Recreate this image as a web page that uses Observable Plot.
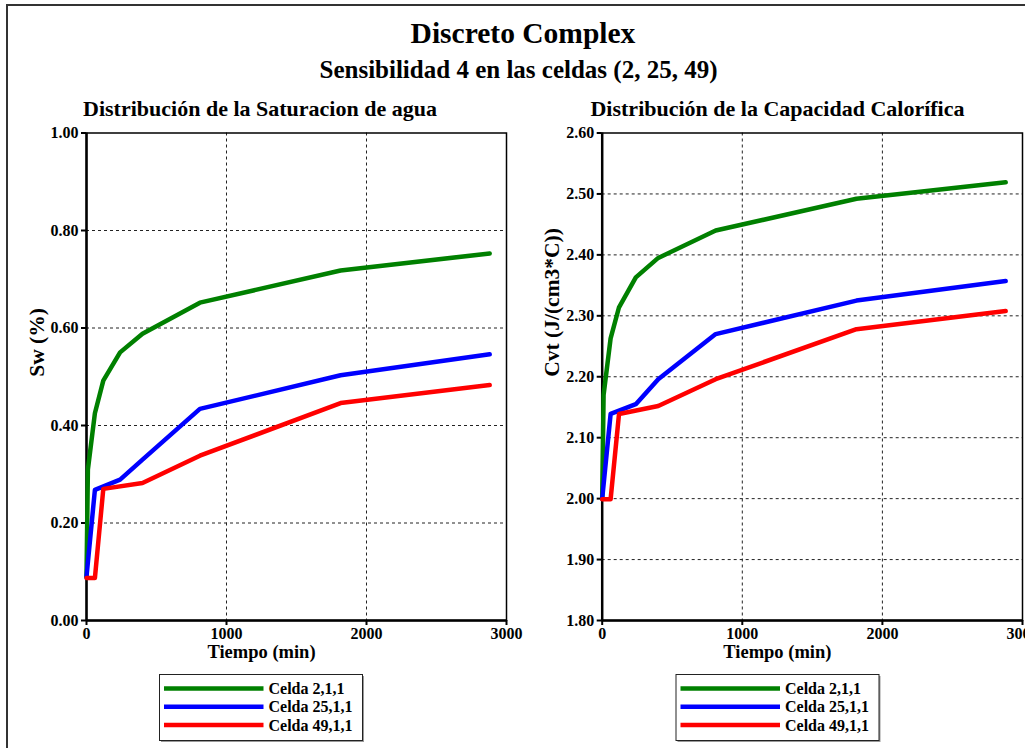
<!DOCTYPE html>
<html>
<head>
<meta charset="utf-8">
<script src="https://cdn.jsdelivr.net/npm/d3@7"></script>
<script src="https://cdn.jsdelivr.net/npm/@observablehq/plot@0.6"></script>
<style>
  html, body { margin: 0; padding: 0; background: #fff; }
  #wrap { position: relative; width: 1025px; height: 748px; overflow: hidden; background: #fff; }
  #wrap svg { position: absolute; top: 0; }
</style>
</head>
<body>
<div id="wrap"></div>
<script>
const FONT = "'Liberation Serif', 'Times New Roman', serif";

// ---- Texts ----
const title = "Discreto Complex";
const subtitle = "Sensibilidad 4 en las celdas (2, 25, 49)";
const panelTitles = ["Distribución de la Saturacion de agua", "Distribución de la Capacidad Calorífica"];
const yLabels = ["Sw (%)", "Cvt (J/(cm3*C))"];
const xLabel = "Tiempo (min)";
const seriesNames = ["Celda 2,1,1", "Celda 25,1,1", "Celda 49,1,1"];
const seriesColors = ["#008000", "#0000ff", "#ff0000"];

// ---- Ticks ----
const xTicks = [0, 1000, 2000, 3000];
const swTicks = [0.0, 0.2, 0.4, 0.6, 0.8, 1.0];
const cvtTicks = [1.8, 1.9, 2.0, 2.1, 2.2, 2.3, 2.4, 2.5, 2.6];

// ---- Data (time in minutes) ----
const tGreen = [0, 10, 60, 120, 240, 400, 810, 1815, 2880];
const tBlue  = [0, 60, 240, 400, 810, 1815, 2880];
const tRed   = [0, 60, 120, 400, 810, 1815, 2880];

const swGreen = [0.089, 0.310, 0.425, 0.492, 0.550, 0.588, 0.652, 0.718, 0.753];
const swBlue  = [0.090, 0.268, 0.289, 0.330, 0.434, 0.503, 0.546];
const swRed   = [0.087, 0.087, 0.270, 0.282, 0.338, 0.446, 0.483];

const cvtGreen = [2.000, 2.170, 2.263, 2.314, 2.363, 2.395, 2.440, 2.492, 2.519];
const cvtBlue  = [2.000, 2.139, 2.155, 2.196, 2.270, 2.325, 2.357];
const cvtRed   = [1.999, 1.999, 2.139, 2.152, 2.196, 2.278, 2.308];

function rows(t, v, name) { return t.map((d, i) => ({t: d, v: v[i], s: name})); }

const swData = [rows(tGreen, swGreen, seriesNames[0]), rows(tBlue, swBlue, seriesNames[1]), rows(tRed, swRed, seriesNames[2])];
const cvtData = [rows(tGreen, cvtGreen, seriesNames[0]), rows(tBlue, cvtBlue, seriesNames[1]), rows(tRed, cvtRed, seriesNames[2])];

const wrap = document.getElementById("wrap");

function panel({left, width, marginLeft, marginRight, yTicks, yLabel, data, yLabelDx}) {
  const yDomain = [yTicks[0], yTicks[yTicks.length - 1]];
  const xDomain = [xTicks[0], xTicks[xTicks.length - 1]];
  const svg = Plot.plot({
    width, height: 748,
    marginLeft, marginRight, marginTop: 132.5, marginBottom: 128,
    style: {background: "transparent", fontFamily: FONT, fontWeight: "bold", fontSize: "16px", color: "#000", overflow: "visible"},
    x: {domain: xDomain},
    y: {domain: yDomain},
    marks: [
      Plot.gridX(xTicks.slice(1, -1), {stroke: "#222", strokeOpacity: 1, strokeWidth: 1, strokeDasharray: "3,3"}),
      Plot.gridY(yTicks.slice(1, -1), {stroke: "#222", strokeOpacity: 1, strokeWidth: 1, strokeDasharray: "3,3"}),
      Plot.frame({stroke: "#000", strokeWidth: 1.5}),
      Plot.axisX(xTicks, {tickSize: 5, tickPadding: 2, strokeWidth: 2, label: null, tickFormat: d => String(d), fontSize: 16}),
      Plot.axisY(yTicks, {tickSize: 5, tickPadding: 3, strokeWidth: 2, label: null, tickFormat: d3.format(".2f"), fontSize: 16}),
      Plot.ruleX([xDomain[0]], {stroke: "#000", strokeWidth: 2.5}),
      Plot.ruleY([yDomain[0]], {stroke: "#000", strokeWidth: 2.5}),
      ...data.map((d, i) => Plot.line(d, {x: "t", y: "v", stroke: seriesColors[i], strokeWidth: 4.5, strokeLinejoin: "round"})),
      Plot.text([yLabel], {text: d => d, frameAnchor: "left", dx: yLabelDx, rotate: -90, fontSize: 21.5, fontWeight: "bold", fill: "#000"}),
      Plot.text([xLabel], {text: d => d, frameAnchor: "bottom", dx: -35, dy: 37, fontSize: 18.5, fontWeight: "bold", fill: "#000"})
    ]
  });
  svg.style.position = "absolute";
  svg.style.left = left + "px";
  svg.style.top = "0px";
  svg.style.maxWidth = "none";
  wrap.appendChild(svg);
}

panel({left: 0, width: 520, marginLeft: 86, marginRight: 14, yTicks: swTicks, yLabel: yLabels[0], data: swData, yLabelDx: -49.5});
panel({left: 512, width: 513, marginLeft: 89.7, marginRight: 3, yTicks: cvtTicks, yLabel: yLabels[1], data: cvtData, yLabelDx: -49.7});

// ---- Overlay: border, titles, legends ----
const ov = d3.select(wrap).append("svg")
  .attr("width", 1025).attr("height", 748)
  .style("left", "0px").style("pointer-events", "none")
  .style("font-family", FONT).style("font-weight", "bold");

ov.append("rect").attr("x", 7).attr("y", 5).attr("width", 1100).attr("height", 800)
  .attr("fill", "none").attr("stroke", "#333").attr("stroke-width", 2);

ov.append("text").attr("x", 523).attr("y", 43).attr("text-anchor", "middle")
  .attr("font-size", 29.5).text(title);
ov.append("text").attr("x", 518.5).attr("y", 78).attr("text-anchor", "middle")
  .attr("font-size", 25).text(subtitle);
[260, 777.5].forEach((cx, i) => {
  ov.append("text").attr("x", cx).attr("y", 116).attr("text-anchor", "middle")
    .attr("font-size", 22).text(panelTitles[i]);
});

[159.5, 676].forEach(lx => {
  const g = ov.append("g").attr("transform", `translate(${lx},674.5)`);
  g.append("rect").attr("x", 1.5).attr("y", 1.5).attr("width", 203).attr("height", 66).attr("fill", "#999");
  g.append("rect").attr("x", 0).attr("y", 0).attr("width", 203).attr("height", 66)
    .attr("fill", "#fff").attr("stroke", "#222").attr("stroke-width", 1);
  seriesNames.forEach((name, i) => {
    const y = 14 + i * 18.3;
    g.append("line").attr("x1", 4.5).attr("x2", 104).attr("y1", y).attr("y2", y)
      .attr("stroke", seriesColors[i]).attr("stroke-width", 4.5);
    g.append("text").attr("x", 109).attr("y", y + 5.5).attr("font-size", 16).text(name);
  });
});
</script>
</body>
</html>
